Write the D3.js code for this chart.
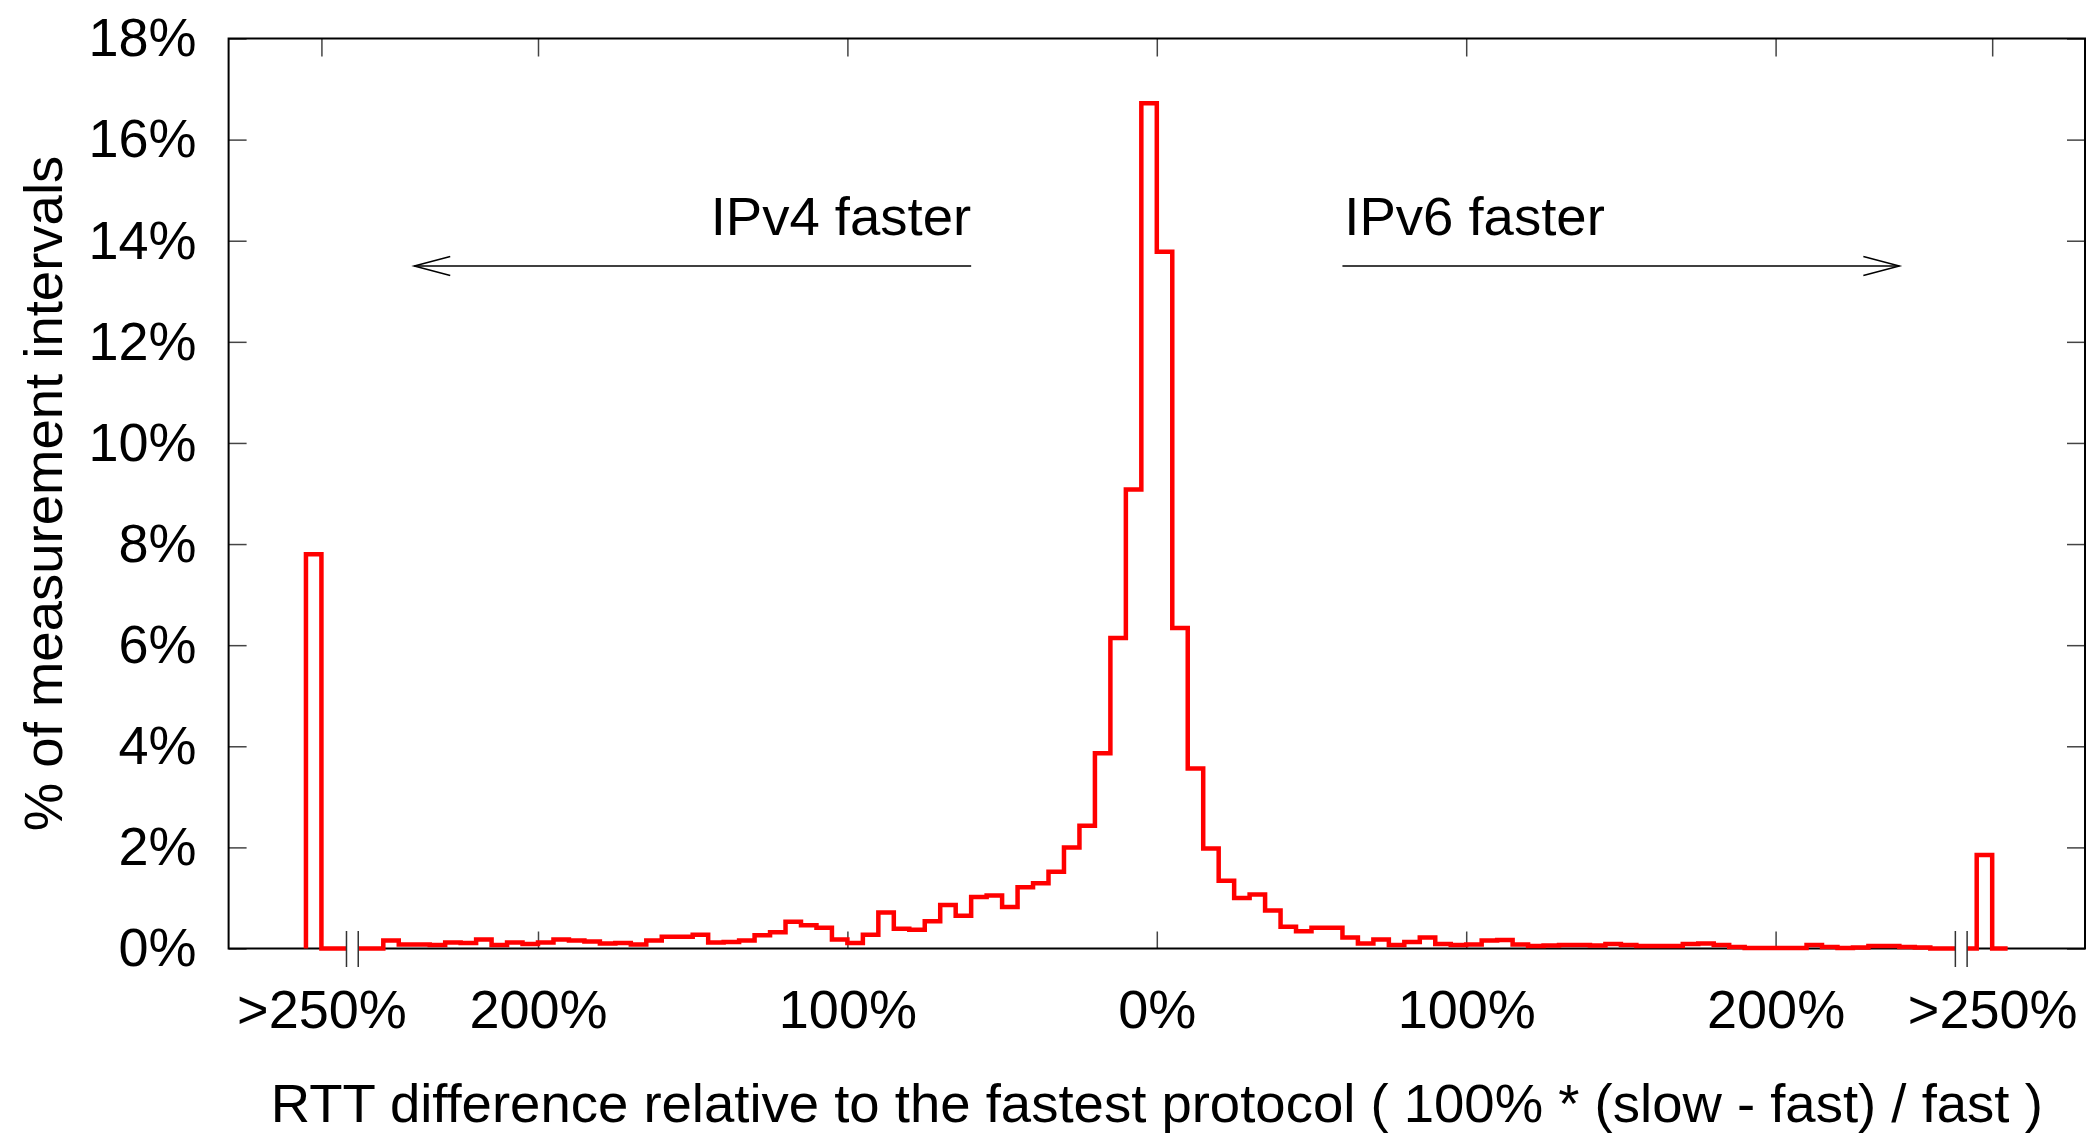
<!DOCTYPE html>
<html>
<head>
<meta charset="utf-8">
<script src="https://cdnjs.cloudflare.com/ajax/libs/d3/7.8.5/d3.min.js"></script>
<style>
  body { margin: 0; background: #fff; }
  svg text { font-family: 'Liberation Sans', Arial, Helvetica, sans-serif; fill: #000; }
</style>
</head>
<body>
<svg id="chart" width="2088" height="1134"></svg>
<script>
// % of measurement intervals per 5% bin, IPv4 side, from -250% up to 0%
var ipv4Bins = [0.16, 0.08, 0.08, 0.07, 0.12, 0.11, 0.18, 0.07, 0.12, 0.09,
                0.12, 0.18, 0.16, 0.14, 0.10, 0.11, 0.08, 0.16, 0.23, 0.23,
                0.27, 0.12, 0.13, 0.16, 0.26, 0.32, 0.53, 0.46, 0.41, 0.18,
                0.11, 0.27, 0.71, 0.39, 0.37, 0.54, 0.86, 0.65, 1.02, 1.05,
                0.82, 1.21, 1.29, 1.52, 2.00, 2.43, 3.86, 6.14, 9.08, 16.72];
// IPv6 side, from 0% up to +250%
var ipv6Bins = [13.78, 6.34, 3.56, 1.98, 1.34, 1.00, 1.07, 0.75, 0.43, 0.34,
                0.41, 0.41, 0.22, 0.10, 0.18, 0.07, 0.13, 0.22, 0.09, 0.07,
                0.08, 0.16, 0.17, 0.08, 0.05, 0.06, 0.07, 0.07, 0.06, 0.09,
                0.07, 0.05, 0.05, 0.05, 0.09, 0.10, 0.07, 0.03, 0.01, 0.01,
                0.01, 0.01, 0.07, 0.03, 0.01, 0.02, 0.05, 0.05, 0.03, 0.02];
// ">250%" overflow bins
var ipv4Over = 7.8;
var ipv6Over = 1.85;

var yTicks = [0, 2, 4, 6, 8, 10, 12, 14, 16, 18];
var xTickVals = [-270, -200, -100, 0, 100, 200, 270];
var xTickLabels = [">250%", "200%", "100%", "0%", "100%", "200%", ">250%"];

var binW = 5;

var margin = {top: 38.5, right: 3, bottom: 185.5, left: 228.6},
    width = 2088 - margin.left - margin.right,
    height = 1134 - margin.top - margin.bottom;

var svg = d3.select("#chart")
  .append("g")
    .attr("transform", "translate(" + margin.left + "," + margin.top + ")");

var x = d3.scaleLinear().domain([-300, 300]).range([0, width]);
var y = d3.scaleLinear().domain([0, 18]).range([height, 0]);

// axes, ticks pointing inwards like gnuplot
function styleAxis(g) {
  g.select(".domain").remove();
  g.selectAll(".tick line").attr("stroke", "#444").attr("stroke-width", 1.5);
  g.attr("font-size", 54).attr("font-family", null);
}

svg.append("g")
  .call(d3.axisLeft(y).tickValues(yTicks).tickFormat(function (d) { return d + "%"; })
        .tickSize(-18).tickPadding(32))
  .call(styleAxis);

svg.append("g")
  .attr("transform", "translate(" + width + ",0)")
  .call(d3.axisRight(y).tickValues(yTicks).tickFormat("").tickSize(-18))
  .call(styleAxis);

svg.append("g")
  .attr("transform", "translate(0," + height + ")")
  .call(d3.axisBottom(x).tickValues(xTickVals)
        .tickFormat(function (d) { return xTickLabels[xTickVals.indexOf(d)]; })
        .tickSize(-17).tickPadding(41))
  .call(styleAxis);

svg.append("g")
  .call(d3.axisTop(x).tickValues(xTickVals).tickFormat("").tickSize(-18))
  .call(styleAxis);

svg.append("rect")
  .attr("width", width).attr("height", height)
  .attr("fill", "none").attr("stroke", "#000").attr("stroke-width", 2);

// histogram outline (step path)
var pts = [[-275, 0], [-275, ipv4Over], [-270, 0], [-250, 0]];
ipv4Bins.forEach(function (v, i) { pts.push([-250 + i * binW, v]); });
ipv6Bins.forEach(function (v, i) { pts.push([i * binW, v]); });
pts.push([250, 0], [265, ipv6Over], [270, 0], [275, 0]);

var line = d3.line()
  .x(function (d) { return x(d[0]); })
  .y(function (d) { return y(d[1]); })
  .curve(d3.curveStepAfter);

svg.append("path")
  .datum(pts)
  .attr("d", line)
  .attr("fill", "none")
  .attr("stroke", "#ff0000")
  .attr("stroke-width", 4.5)
  .attr("stroke-linejoin", "miter");

// axis break marks
[-260, 260].forEach(function (c) {
  svg.append("rect")
    .attr("x", x(c - 1.9)).attr("y", height - 5)
    .attr("width", x(c + 1.9) - x(c - 1.9)).attr("height", 10)
    .attr("fill", "#fff");
  [c - 1.9, c + 1.9].forEach(function (e) {
    svg.append("line")
      .attr("x1", x(e)).attr("x2", x(e))
      .attr("y1", height - 17.5).attr("y2", height + 18.5)
      .attr("stroke", "#333").attr("stroke-width", 1.5);
  });
});

// direction arrows
function arrow(from, to, level) {
  var dir = to > from ? 1 : -1;
  var g = svg.append("g").attr("stroke", "#000").attr("stroke-width", 1.5).attr("fill", "none");
  g.append("line").attr("x1", x(from)).attr("x2", x(to)).attr("y1", y(level)).attr("y2", y(level));
  g.append("polyline")
    .attr("points", [[x(to) - dir * 36, y(level) - 9.5], [x(to), y(level)], [x(to) - dir * 36, y(level) + 9.5]].join(" "));
}
arrow(-60, -240, 13.5);
arrow(60, 240, 13.5);

svg.append("text")
  .attr("x", x(-60)).attr("y", y(14.11))
  .attr("text-anchor", "end").attr("font-size", 54.5)
  .text("IPv4 faster");
svg.append("text")
  .attr("x", x(60.6)).attr("y", y(14.11))
  .attr("text-anchor", "start").attr("font-size", 54.5)
  .text("IPv6 faster");

// axis titles
svg.append("text")
  .attr("x", width / 2).attr("y", 1121.5 - margin.top)
  .attr("text-anchor", "middle").attr("font-size", 54.5)
  .text("RTT difference relative to the fastest protocol ( 100% * (slow - fast) / fast )");

svg.append("text")
  .attr("transform", "translate(" + (62 - margin.left) + "," + height / 2 + ") rotate(-90)")
  .attr("text-anchor", "middle").attr("font-size", 54.5)
  .text("% of measurement intervals");
</script>
</body>
</html>
